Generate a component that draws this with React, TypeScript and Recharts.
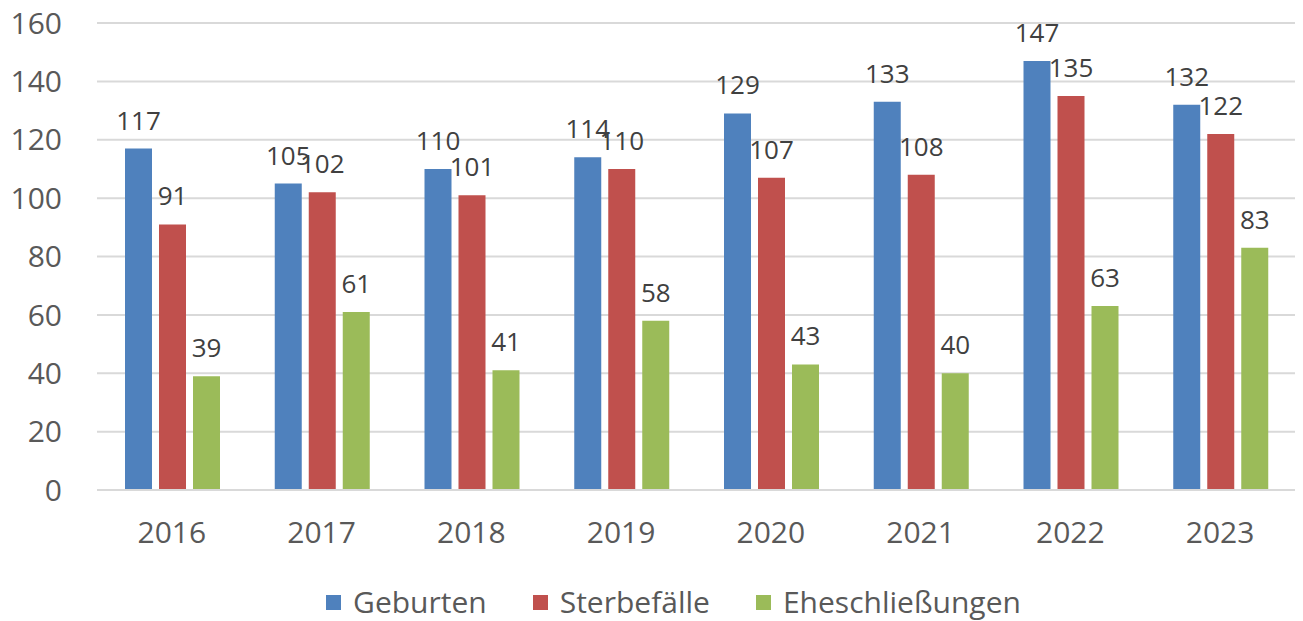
import { Bar, BarChart, CartesianGrid, LabelList, Legend, XAxis, YAxis } from "recharts";

const years = ["2016", "2017", "2018", "2019", "2020", "2021", "2022", "2023"];
const geburten = [117, 105, 110, 114, 129, 133, 147, 132];
const sterbefaelle = [91, 102, 101, 110, 107, 108, 135, 122];
const eheschliessungen = [39, 61, 41, 58, 43, 40, 63, 83];
const yTicks = [0, 20, 40, 60, 80, 100, 120, 140, 160];
const seriesNames = ["Geburten", "Sterbefälle", "Eheschließungen"];
const seriesColors = ["#4F81BD", "#C0504D", "#9BBB59"];

const rows = years.map((year, i) => ({
  year,
  geburten: geburten[i],
  sterbefaelle: sterbefaelle[i],
  eheschliessungen: eheschliessungen[i],
}));

const FONT = "'Open Sans', sans-serif";
const AXIS_TEXT = "#595959";
const LABEL_TEXT = "#404040";

// legend drawn as plain html, in series order, so spacing can match the original
function BottomLegend() {
  return (
    <div
      style={{
        display: "flex",
        justifyContent: "center",
        fontFamily: FONT,
        fontSize: 30,
        lineHeight: "38px",
        height: 40,
        paddingTop: 2,
        paddingLeft: 52,
        boxSizing: "border-box",
        color: AXIS_TEXT,
      }}
    >
      {seriesNames.map((name, i) => (
        <div key={name} style={{ display: "flex", alignItems: "center", margin: "0 23px" }}>
          <span style={{ width: 15, height: 15, background: seriesColors[i], display: "inline-block", marginRight: 12 }} />
          <span>{name}</span>
        </div>
      ))}
    </div>
  );
}

export default function App() {
  const labelStyle = { fontFamily: FONT, fontSize: 26, fill: LABEL_TEXT };
  return (
    <div style={{ position: "absolute", left: 0, top: 0, background: "#fff" }}>
      <BarChart
        width={1303}
        height={621}
        data={rows}
        margin={{ top: 23, right: 8, bottom: 0, left: 0 }}
        barCategoryGap={28}
        barGap={7}
      >
        <CartesianGrid vertical={false} stroke="#D9D9D9" strokeWidth={2} />
        <XAxis
          dataKey="year"
          height={91}
          tickLine={false}
          tickSize={0}
          tickMargin={32}
          axisLine={{ stroke: "#D9D9D9", strokeWidth: 2 }}
          tick={{ fontFamily: FONT, fontSize: 30, fill: AXIS_TEXT }}
        />
        <YAxis
          width={97}
          domain={[0, 160]}
          ticks={yTicks}
          axisLine={false}
          tickLine={false}
          tickSize={0}
          tickMargin={35}
          tick={{ fontFamily: FONT, fontSize: 30, fill: AXIS_TEXT }}
        />
        <Legend verticalAlign="bottom" height={40} content={<BottomLegend />} />
        <Bar dataKey="geburten" name={seriesNames[0]} fill={seriesColors[0]} isAnimationActive={false}>
          <LabelList dataKey="geburten" position="top" offset={19} style={labelStyle} />
        </Bar>
        <Bar dataKey="sterbefaelle" name={seriesNames[1]} fill={seriesColors[1]} isAnimationActive={false}>
          <LabelList dataKey="sterbefaelle" position="top" offset={19} style={labelStyle} />
        </Bar>
        <Bar dataKey="eheschliessungen" name={seriesNames[2]} fill={seriesColors[2]} isAnimationActive={false}>
          <LabelList dataKey="eheschliessungen" position="top" offset={19} style={labelStyle} />
        </Bar>
      </BarChart>
    </div>
  );
}
